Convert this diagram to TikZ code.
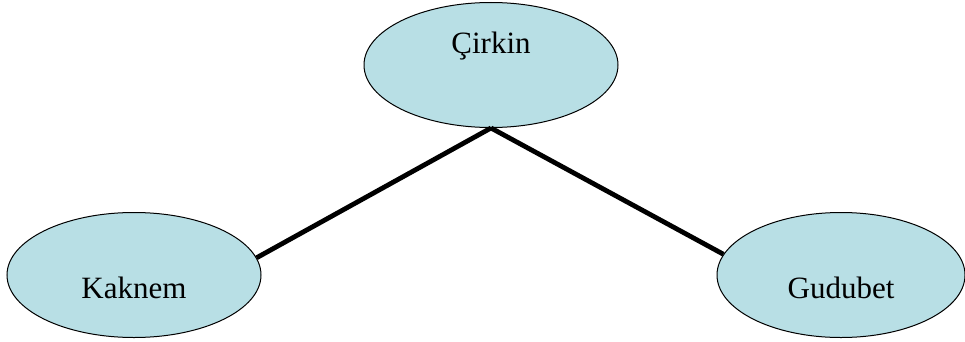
\documentclass[tikz,border=0pt]{standalone}
\usepackage{fontspec}
\setmainfont{Liberation Serif}
\usetikzlibrary{shapes.geometric,positioning}
\definecolor{blob}{RGB}{184,223,229}

\begin{document}
\begin{tikzpicture}[x=1pt,y=1pt,
  blobnode/.style={shape=ellipse,draw,fill=blob,line width=1pt,inner sep=0pt,
    minimum width=254pt,minimum height=125pt},
  word/.style={anchor=base,font=\fontsize{31}{36}\selectfont},
  link/.style={line width=4.8pt}]
\useasboundingbox (0,0) rectangle (965,341);

\node[blobnode] (cirkin) at (491,276) {};
\node[blobnode] (kaknem) at (134,66) {};
\node[blobnode,minimum width=248pt] (gudubet) at (841,66) {};
\node[word] (cirkintxt) at (491,288) {Çirkin};
\node[word] (kaknemtxt) at (134,43) {Kaknem};
\node[word] (gudubettxt) at (841,43) {Gudubet};

\draw[link] (cirkin.south) -- (kaknem.8);
\draw[link] (cirkin.south) -- (gudubet.170);
\end{tikzpicture}
\end{document}
